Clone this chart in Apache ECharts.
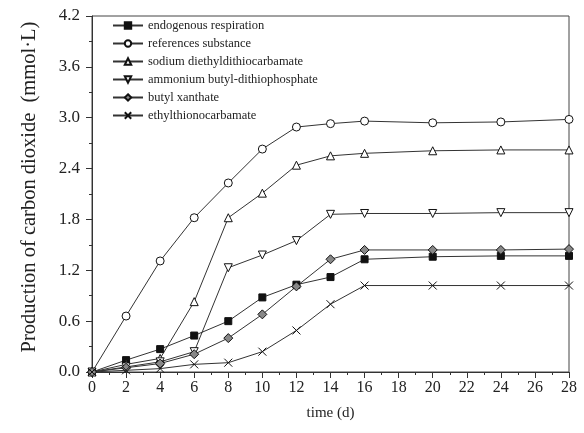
<!DOCTYPE html>
<html>
<head>
<meta charset="utf-8">
<script src="https://cdn.jsdelivr.net/npm/echarts@6/dist/echarts.min.js"></script>
<style>
  html, body { margin: 0; padding: 0; background: #fff; }
  #chart { width: 584px; height: 433px; }
</style>
</head>
<body>
<div id="chart"></div>
<script>
// days of measurement
var days = [0, 2, 4, 6, 8, 10, 12, 14, 16, 20, 24, 28];

// CO2 production (mmol/L)
var endogenous = [0, 0.14, 0.27, 0.43, 0.60, 0.88, 1.03, 1.12, 1.33, 1.36, 1.37, 1.37];
var reference = [0, 0.66, 1.31, 1.82, 2.23, 2.63, 2.89, 2.93, 2.96, 2.94, 2.95, 2.98];
var sodium = [0, 0.09, 0.16, 0.83, 1.82, 2.11, 2.44, 2.55, 2.58, 2.61, 2.62, 2.62];
var ammonium = [0, 0.06, 0.12, 0.24, 1.23, 1.38, 1.55, 1.86, 1.87, 1.87, 1.88, 1.88];
var xanthate = [0, 0.05, 0.10, 0.21, 0.40, 0.68, 1.01, 1.33, 1.44, 1.44, 1.44, 1.45];
var ethyl = [0, 0.02, 0.04, 0.09, 0.11, 0.24, 0.49, 0.80, 1.02, 1.02, 1.02, 1.02];

var names = ['endogenous respiration', 'references substance', 'sodium diethyldithiocarbamate',
    'ammonium butyl-dithiophosphate', 'butyl xanthate', 'ethylthionocarbamate'];

var serif = 'Liberation Serif';
var lineColor = '#333';

function pairs(vals) {
    var out = [];
    for (var i = 0; i < days.length; i++) {
        out.push([days[i], vals[i]]);
    }
    return out;
}

function makeSeries(name, vals, symbol, fill, size, extra) {
    var s = {
        name: name,
        type: 'line',
        data: pairs(vals),
        symbol: symbol,
        symbolSize: size,
        showAllSymbol: true,
        lineStyle: { color: lineColor, width: 1 },
        itemStyle: { color: fill, borderColor: '#111', borderWidth: 1 },
        emphasis: { disabled: true },
        animation: false,
        z: 3
    };
    if (extra) {
        for (var k in extra) s[k] = extra[k];
    }
    return s;
}

// plain X marker
var crossPath = 'path://M0,0L10,10M10,0L0,10';

var chart = echarts.init(document.getElementById('chart'));
chart.setOption({
    backgroundColor: '#fff',
    animation: false,
    grid: {
        left: 92, right: 15, top: 16, bottom: 61,
        show: true, borderColor: '#444', borderWidth: 1, backgroundColor: 'transparent'
    },
    legend: {
        orient: 'vertical',
        left: 107,
        top: 14,
        itemGap: 5,
        itemWidth: 30,
        itemHeight: 8,
        textStyle: { fontFamily: serif, fontSize: 12.5, color: '#222' },
        data: names
    },
    xAxis: {
        type: 'value',
        min: 0, max: 28, interval: 2,
        axisLine: { show: true, onZero: false, lineStyle: { color: '#333' } },
        axisTick: { show: true, inside: false, length: 6, lineStyle: { color: '#333' } },
        minorTick: { show: true, splitNumber: 2, length: 3, lineStyle: { color: '#333' } },
        splitLine: { show: false },
        axisLabel: { fontFamily: serif, fontSize: 16, color: '#222', margin: 8 },
        name: 'time (d)',
        nameLocation: 'middle',
        nameGap: 34,
        nameTextStyle: { fontFamily: serif, fontSize: 15, color: '#222' }
    },
    yAxis: {
        type: 'value',
        min: 0, max: 4.2, interval: 0.6,
        axisLine: { show: true, lineStyle: { color: '#333' } },
        axisTick: { show: true, inside: false, length: 6, lineStyle: { color: '#333' } },
        minorTick: { show: true, splitNumber: 2, length: 3, lineStyle: { color: '#333' } },
        splitLine: { show: false },
        axisLabel: {
            fontFamily: serif, fontSize: 17, color: '#222', margin: 12,
            formatter: function (v) { return v.toFixed(1); }
        },
        name: 'Production of carbon dioxide  (mmol\u00b7L)',
        nameLocation: 'middle',
        nameGap: 52,
        nameTextStyle: { fontFamily: serif, fontSize: 20.5, color: '#222', padding: [0, 0, 0, 14] }
    },
    series: [
        makeSeries(names[0], endogenous, 'rect', '#111', 7),
        makeSeries(names[1], reference, 'circle', '#fff', 8),
        makeSeries(names[2], sodium, 'triangle', '#fff', 8),
        makeSeries(names[3], ammonium, 'triangle', '#fff', 8, { symbolRotate: 180 }),
        makeSeries(names[4], xanthate, 'diamond', '#888', 9),
        makeSeries(names[5], ethyl, crossPath, 'none', 8)
    ]
});
</script>
</body>
</html>
